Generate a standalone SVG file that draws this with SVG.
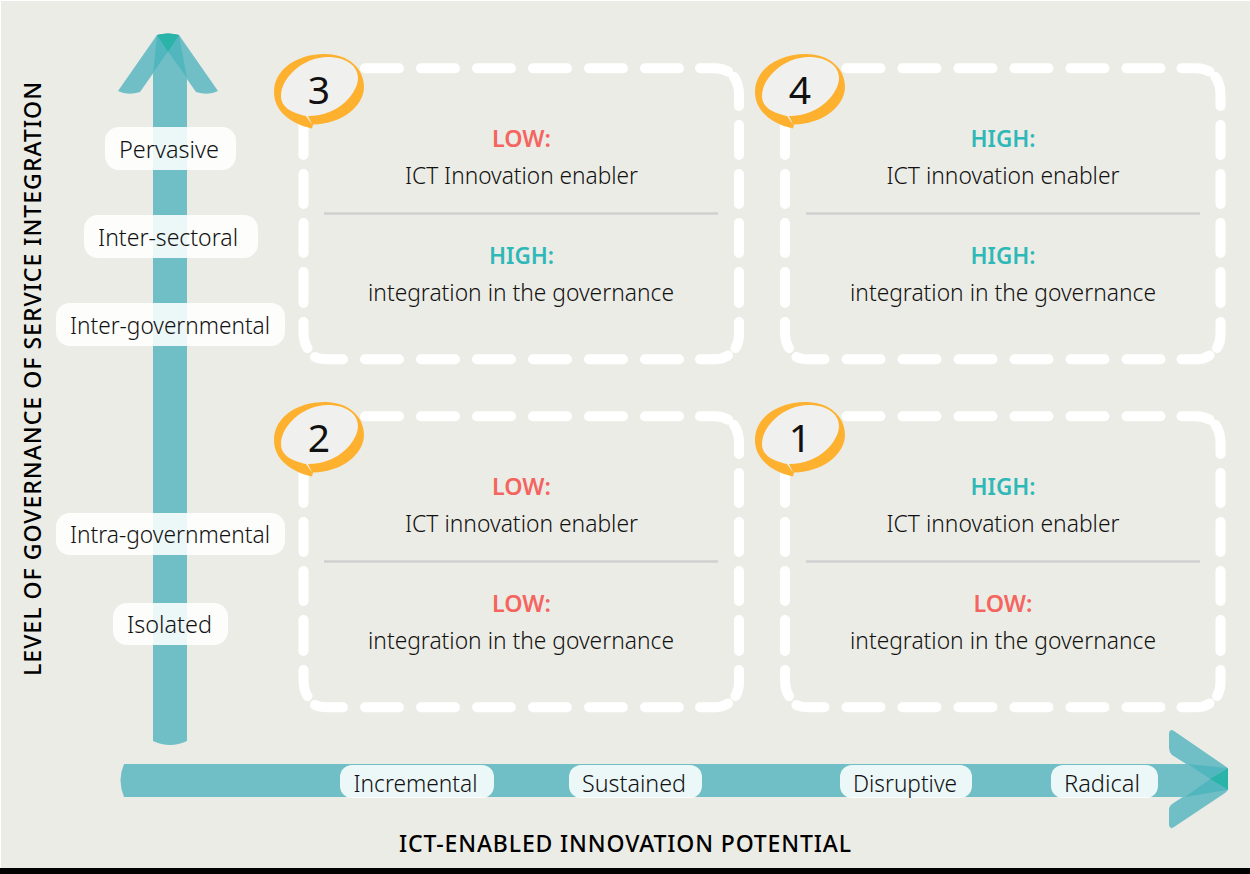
<svg xmlns="http://www.w3.org/2000/svg" xmlns:xlink="http://www.w3.org/1999/xlink" width="1250" height="874" viewBox="0 0 1250 874">
<style>
text{font-family:"Noto Sans","Liberation Sans",sans-serif;font-size:24px;font-weight:300;fill:#111;text-anchor:middle}
.low{fill:#f4655f;font-weight:600}
.high{fill:#2fb8b8;font-weight:600}
.axis{font-size:23px;fill:#000;font-weight:500}
.num{font-size:39px;font-weight:400;fill:#111}
.pill{fill:#fff;fill-opacity:.87}
.frame{fill:none;stroke:#fff;stroke-width:10;stroke-linecap:round}
.rule{stroke:#cfd0d0;stroke-width:2.500}
.band{fill:#70bfc6}
.over{fill:#52b6be}
.core{fill:#2ab3a8}
</style>
<defs>
<path id="frame" class="frame" d="M365,68.300H399M421,68.300H455M477,68.300H511M533,68.300H567M589,68.300H623M645,68.300H679M700,68.300H715Q722,68.300 728,71.500M734,77Q739,84 739,95V106M739,125V155M739,174V204M739,223V253M739,272V303M739,322V335Q739,342 735.500,348M700,359.300H715Q722,359.300 728,355.500M365,359.300H399M421,359.300H455M477,359.300H511M533,359.300H567M589,359.300H623M645,359.300H679M315,357Q320,359.300 327,359.300H343M303.500,322V332Q303.500,342 307.500,348M303.500,272V303M303.500,223V253M303.500,174V204M303.500,125V155"/>
<g id="badge">
<path fill="#fdb12f" d="M312,128.500C292,124 274,112 274,92C274,70 296,54 325,54C348,54 364,68 364,87C364,106 342,124 313,124.500Z"/>
<path fill="#f0f0ee" d="M306,116C293,113 281,108 281,96C281,78 303,57 328,57C346,57 358,66 358,78C358,92 340,116 308,116L312,124.500Z"/>
</g>
</defs>
<rect width="1250" height="874" fill="#ecece6"/>
<rect width="1" height="868" fill="#fff"/>
<rect width="1250" height="1" fill="#fff"/>
<rect y="868" width="1250" height="6" fill="#000"/>

<g id="connectors">
<g id="axis-vertical">
<path class="band" d="M153,73L168,52L187,78V741Q170,749 153,741Z"/>
<path class="band" d="M118,91L157,35Q168,32 179,35L168,52L140,92Q128,96 118,91Z"/>
<path class="band" d="M218,91L179,35Q168,32 157,35L168,52L196,92Q208,96 218,91Z"/>
<path class="over" d="M153,73L157,35L168,52Z"/>
<path class="over" d="M187,78L179,35L168,52Z"/>
<path class="core" d="M157,35Q168,32 179,35L168,52Z"/>
</g>
<g id="axis-horizontal">
<path class="band" d="M124,764H1189L1210,779L1185,797H124Q117,780 124,764Z"/>
<path class="band" d="M1169,733Q1170,728 1174,731L1225,766Q1229,768 1228,771V788Q1229,790 1225,793L1174,827Q1170,830 1169,825V809Q1169,806 1172,804L1210,779L1172,755Q1169,752 1169,748Z"/>
<path class="over" d="M1188,764L1227,768L1210,779Z"/>
<path class="over" d="M1185,797L1227,790L1210,779Z"/>
<path class="core" d="M1210,779L1228,768V790Z"/>
</g>
</g>

<g id="label-pervasive"><rect class="pill" x="105" y="127" width="131" height="43" rx="14"/><text x="169" y="158" textLength="100" lengthAdjust="spacingAndGlyphs">Pervasive</text></g>
<g id="label-inter-sectoral"><rect class="pill" x="84" y="215" width="174" height="43" rx="14"/><text x="168" y="246" textLength="140" lengthAdjust="spacingAndGlyphs">Inter-sectoral</text></g>
<g id="label-inter-governmental"><rect class="pill" x="56" y="303" width="229" height="43" rx="14"/><text x="170" y="334" textLength="200" lengthAdjust="spacingAndGlyphs">Inter-governmental</text></g>
<g id="label-intra-governmental"><rect class="pill" x="56" y="513" width="229" height="42" rx="14"/><text x="170" y="543" textLength="200" lengthAdjust="spacingAndGlyphs">Intra-governmental</text></g>
<g id="label-isolated"><rect class="pill" x="113" y="603" width="115" height="42" rx="14"/><text x="169.500" y="633" textLength="85" lengthAdjust="spacingAndGlyphs">Isolated</text></g>

<g id="label-incremental"><rect class="pill" x="340" y="765" width="154" height="33" rx="12"/><text x="415.500" y="792" textLength="124" lengthAdjust="spacingAndGlyphs">Incremental</text></g>
<g id="label-sustained"><rect class="pill" x="569" y="765" width="133" height="33" rx="12"/><text x="634" y="792" textLength="104" lengthAdjust="spacingAndGlyphs">Sustained</text></g>
<g id="label-disruptive"><rect class="pill" x="840" y="765" width="132" height="33" rx="12"/><text x="905" y="792" textLength="104" lengthAdjust="spacingAndGlyphs">Disruptive</text></g>
<g id="label-radical"><rect class="pill" x="1051" y="765" width="107" height="33" rx="12"/><text x="1102" y="792" textLength="76" lengthAdjust="spacingAndGlyphs">Radical</text></g>

<text class="axis" transform="translate(41,379) rotate(-90)" textLength="594" lengthAdjust="spacing">LEVEL OF GOVERNANCE OF SERVICE INTEGRATION</text>
<text class="axis" x="625" y="852" textLength="452" lengthAdjust="spacing">ICT-ENABLED INNOVATION POTENTIAL</text>

<g id="node-3">
<use href="#frame"/><use href="#badge"/>
<text class="num" x="319" y="104">3</text>
<text class="low" x="521.500" y="147" textLength="59" lengthAdjust="spacingAndGlyphs">LOW:</text>
<text x="521.500" y="184" textLength="233" lengthAdjust="spacingAndGlyphs">ICT Innovation enabler</text>
<line class="rule" x1="324" y1="213.500" x2="718" y2="213.500"/>
<text class="high" x="521.500" y="264" textLength="65" lengthAdjust="spacingAndGlyphs">HIGH:</text>
<text x="521" y="301" textLength="306" lengthAdjust="spacingAndGlyphs">integration in the governance</text>
</g>
<g id="node-4">
<use href="#frame" x="481.500"/><use href="#badge" x="481"/>
<text class="num" x="800" y="104">4</text>
<text class="high" x="1003" y="147" textLength="65" lengthAdjust="spacingAndGlyphs">HIGH:</text>
<text x="1003" y="184" textLength="233" lengthAdjust="spacingAndGlyphs">ICT innovation enabler</text>
<line class="rule" x1="806" y1="213.500" x2="1200" y2="213.500"/>
<text class="high" x="1003" y="264" textLength="65" lengthAdjust="spacingAndGlyphs">HIGH:</text>
<text x="1003" y="301" textLength="306" lengthAdjust="spacingAndGlyphs">integration in the governance</text>
</g>
<g id="node-2">
<use href="#frame" y="348"/><use href="#badge" y="348"/>
<text class="num" x="319" y="452">2</text>
<text class="low" x="521.500" y="495" textLength="59" lengthAdjust="spacingAndGlyphs">LOW:</text>
<text x="521.500" y="532" textLength="233" lengthAdjust="spacingAndGlyphs">ICT innovation enabler</text>
<line class="rule" x1="324" y1="561.500" x2="718" y2="561.500"/>
<text class="low" x="521.500" y="612" textLength="59" lengthAdjust="spacingAndGlyphs">LOW:</text>
<text x="521" y="649" textLength="306" lengthAdjust="spacingAndGlyphs">integration in the governance</text>
</g>
<g id="node-1">
<use href="#frame" x="481.500" y="348"/><use href="#badge" x="481" y="348"/>
<text class="num" x="800" y="452">1</text>
<text class="high" x="1003" y="495" textLength="65" lengthAdjust="spacingAndGlyphs">HIGH:</text>
<text x="1003" y="532" textLength="233" lengthAdjust="spacingAndGlyphs">ICT innovation enabler</text>
<line class="rule" x1="806" y1="561.500" x2="1200" y2="561.500"/>
<text class="low" x="1003" y="612" textLength="59" lengthAdjust="spacingAndGlyphs">LOW:</text>
<text x="1003" y="649" textLength="306" lengthAdjust="spacingAndGlyphs">integration in the governance</text>
</g>
</svg>
